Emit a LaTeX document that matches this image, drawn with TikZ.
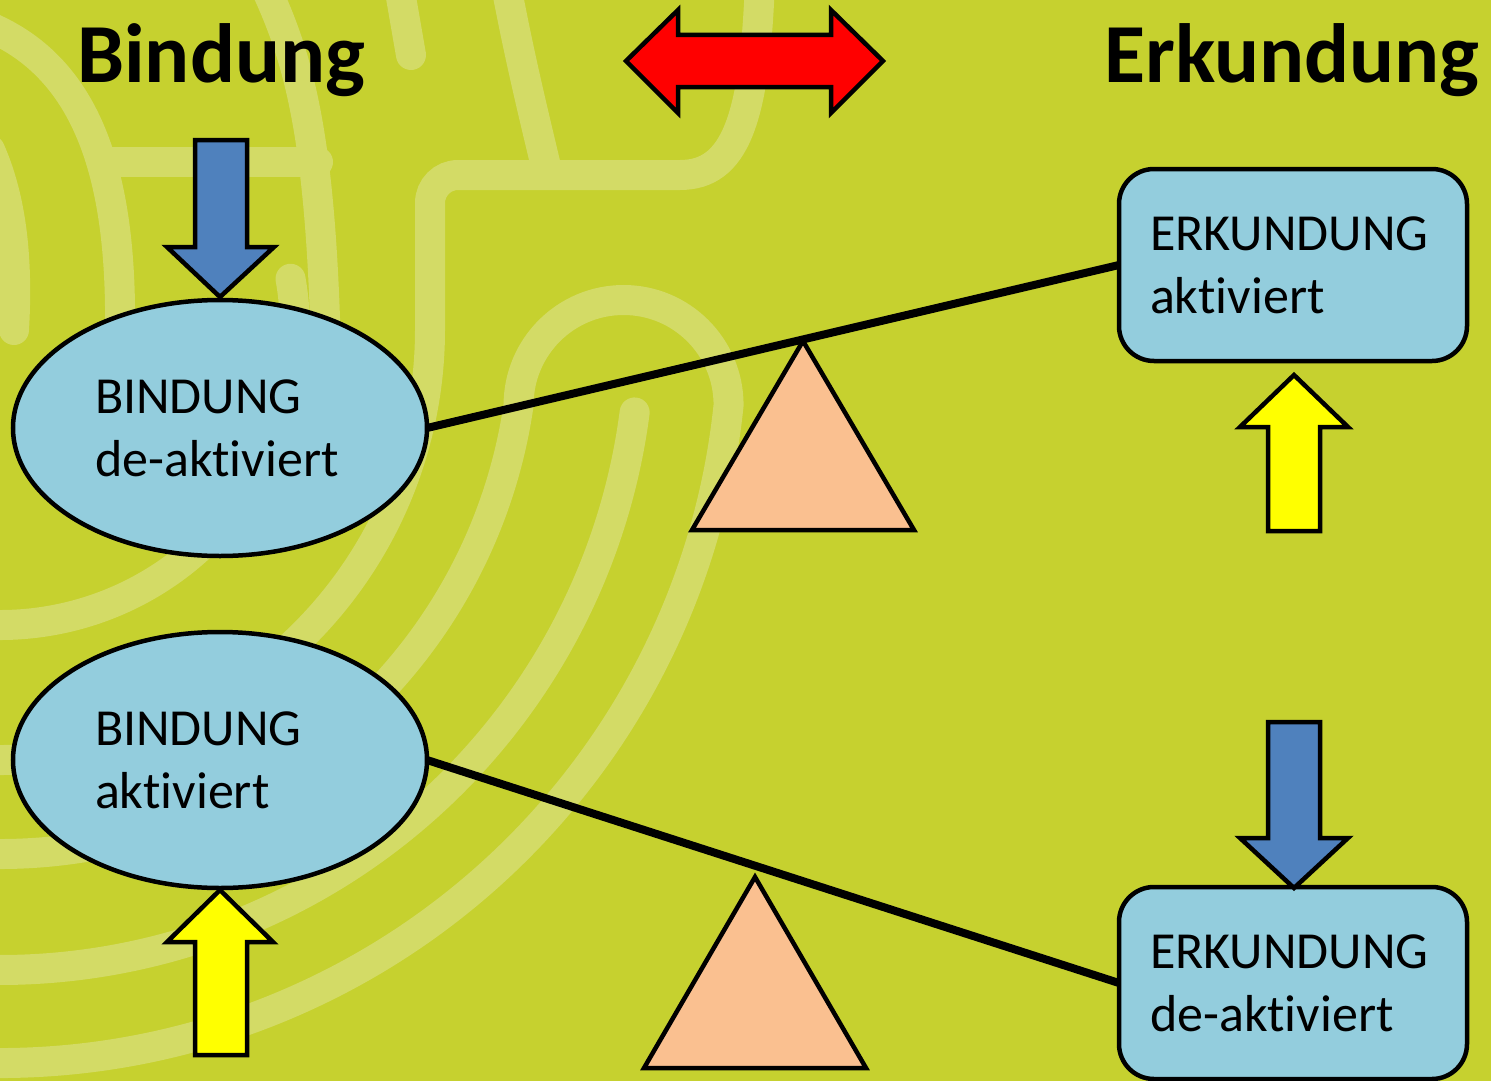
\documentclass[tikz,border=0pt]{standalone}
\usepackage{fontspec}
\setmainfont{Carlito}[Ligatures={NoCommon,NoRequired,NoContextual},Contextuals=NoAlternate]
\usetikzlibrary{shapes.geometric}
\definecolor{bgc}{RGB}{198,209,47}
\definecolor{bandc}{RGB}{211,219,102}
\definecolor{nodec}{RGB}{147,205,221}
\definecolor{bluec}{RGB}{79,129,189}
\definecolor{yellowc}{RGB}{255,255,0}
\definecolor{redc}{RGB}{255,0,0}
\definecolor{tric}{RGB}{250,192,144}
\begin{document}
\begin{tikzpicture}[x=1pt,y=-1pt,
  band/.style={draw=bandc,line width=30pt,line cap=round},
  ell/.style={ellipse,draw,line width=4.5pt,fill=nodec,minimum width=414pt,minimum height=256pt,inner sep=2pt,outer sep=0pt,text width=250pt,align=left,font=\fontsize{52}{63}\selectfont},
  rbox/.style={rectangle,rounded corners=35pt,draw,line width=4.5pt,fill=nodec,minimum width=348pt,minimum height=192pt,inner sep=2pt,outer sep=0pt,text width=286pt,align=left,font=\fontsize{52}{63}\selectfont},
  titletext/.style={anchor=base west,inner sep=0pt,font=\bfseries\fontsize{84}{100}\selectfont},
  lever/.style={line width=8pt},
  blockarrow/.style={draw,line width=4.5pt,line join=miter},
  fulcrum/.style={draw,line width=4.5pt,fill=tric,line join=miter}]
\fill[bgc] (0,0) rectangle (1491,1081);
\useasboundingbox (0,0) rectangle (1491,1081);
% background labyrinth bands
\begin{scope}
\clip (0,0) rectangle (1491,1081);
\draw[band] (398,-20) -- (411,55);
\draw[band] (505,-20) .. controls (520,60) and (535,120) .. (548,175);
\draw[band] ([shift={(0,330)}]100:430) arc[start angle=100,end angle=0,radius=430] -- (430,203) arc[start angle=180,end angle=270,radius=28] -- (680,175) .. controls (735,175) and (755,120) .. (760,-20);
\draw[band] ([shift={(0,330)}]100:524) arc[start angle=100,end angle=8.23,radius=524] arc[start angle=180,end angle=360,radius=105] arc[start angle=5.87,end angle=100,radius=733];
\draw[band] ([shift={(0,330)}]7.4:640) arc[start angle=7.4,end angle=100,radius=640];
\draw[band] ([shift={(0,330)}]100:295) arc[start angle=100,end angle=-10,radius=295];
\draw[band] (-15,25) .. controls (85,65) and (122,170) .. (120,330);
\draw[band] (110,162) -- (318,162);
\draw[band] (262,-20) .. controls (300,60) and (325,140) .. (327,420);
\draw[band] (-10,150) .. controls (12,200) and (18,260) .. (14,330);
\end{scope}
% titles
\node[titletext] (tb) at (77,82) {Bindung};
\node[titletext] (te) at (1104,82) {Erkundung};
% red double arrow
\draw[blockarrow,fill=redc] (626,61) -- (678,10) -- (678,35) -- (831,35) -- (831,10) -- (883,61) -- (831,113) -- (831,87) -- (678,87) -- (678,113) -- cycle;
% fulcrums
\draw[fulcrum] (692,530) -- (803,341) -- (914,530) -- cycle;
\draw[fulcrum] (644,1068) -- (755,877) -- (866,1068) -- cycle;
% nodes
\node[ell] (bd) at (220,428) {BINDUNG\\de-aktiviert};
\node[ell] (ba) at (220,760) {BINDUNG\\aktiviert};
\node[rbox] (ea) at (1293,265) {ERKUNDUNG\\aktiviert};
\node[rbox] (ed) at (1293,983) {ERKUNDUNG\\de-aktiviert};
% levers
\draw[lever] (bd.east) -- (ea.west);
\draw[lever] (ba.east) -- (ed.west);
% block arrows
\draw[blockarrow,fill=bluec] (195,140) -- (247,140) -- (247,247) -- (274,247) -- (220,297) -- (167,247) -- (195,247) -- cycle;
\draw[blockarrow,fill=yellowc] (220,890) -- (273,942) -- (247,942) -- (247,1055) -- (195,1055) -- (195,942) -- (167,942) -- cycle;
\draw[blockarrow,fill=yellowc] (1294,375) -- (1348,427) -- (1320,427) -- (1320,531) -- (1268,531) -- (1268,427) -- (1240,427) -- cycle;
\draw[blockarrow,fill=bluec] (1268,722) -- (1320,722) -- (1320,838) -- (1348,838) -- (1294,888) -- (1240,838) -- (1268,838) -- cycle;
\end{tikzpicture}
\end{document}
